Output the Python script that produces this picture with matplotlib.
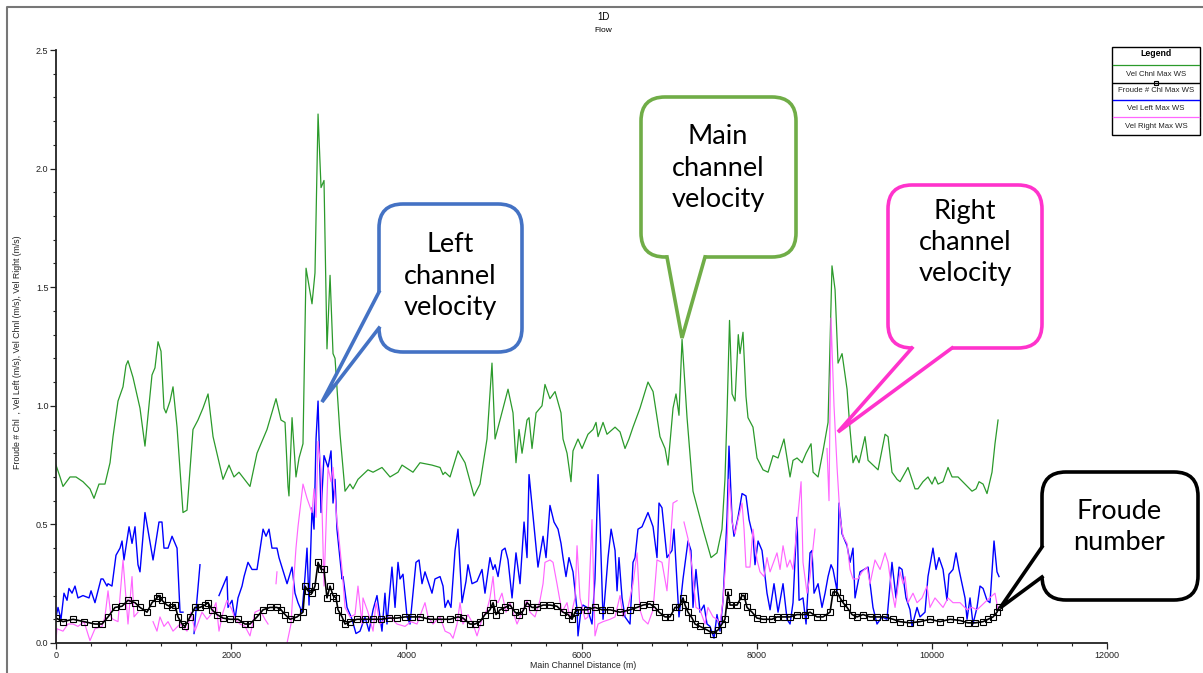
import matplotlib.pyplot as plt
import numpy as np
from matplotlib.patches import FancyBboxPatch, Polygon, Rectangle
from matplotlib.lines import Line2D

# HEC-RAS 1D flow profile: velocities and Froude number along main channel
chnl_x = [0, 46, 80, 160, 228, 308, 388, 434, 491, 559, 617, 651, 708, 765, 799, 822, 879, 959,
          1016, 1096, 1130, 1165, 1199, 1233, 1256, 1302, 1336, 1382, 1450, 1496, 1564, 1621, 1678,
          1736, 1793, 1907, 1975, 2032, 2089, 2215, 2295, 2409, 2512, 2569, 2615, 2649, 2660, 2695,
          2740, 2775, 2820, 2855, 2923, 2957, 2992, 3026, 3060, 3094, 3129, 3163, 3186, 3243, 3300,
          3357, 3391, 3448, 3562, 3620, 3722, 3814, 3905, 3951, 4076, 4156, 4293, 4385, 4419, 4442,
          4499, 4590, 4670, 4773, 4841, 4921, 4978, 5013, 5104, 5161, 5218, 5252, 5287, 5321, 5378,
          5401, 5435, 5481, 5549, 5583, 5640, 5698, 5766, 5789, 5835, 5880, 5903, 5960, 6006, 6074,
          6131, 6166, 6189, 6246, 6291, 6383, 6440, 6497, 6542, 6588, 6668, 6759, 6817, 6896, 6954,
          6988, 7045, 7079, 7113, 7148, 7205, 7273, 7387, 7479, 7547, 7604, 7638, 7662, 7690, 7719,
          7753, 7790, 7810, 7844, 7878, 7901, 7958, 8004, 8073, 8130, 8187, 8244, 8312, 8381, 8415,
          8461, 8518, 8564, 8621, 8644, 8701, 8758, 8815, 8860, 8895, 8929, 8975, 9032, 9066, 9100,
          9134, 9169, 9237, 9272, 9386, 9466, 9500, 9545, 9603, 9637, 9728, 9808, 9842, 9899, 9956,
          10002, 10036, 10071, 10128, 10185, 10231, 10299, 10379, 10459, 10505, 10539, 10585, 10630,
          10687, 10721, 10756]
chnl_v = [0.75, 0.70, 0.66, 0.70, 0.70, 0.68, 0.65, 0.61, 0.67, 0.67, 0.76, 0.87, 1.02, 1.08, 1.17,
          1.19, 1.12, 0.99, 0.83, 1.13, 1.16, 1.27, 1.23, 0.99, 0.97, 1.02, 1.08, 0.91, 0.55, 0.56,
          0.90, 0.94, 0.99, 1.05, 0.87, 0.69, 0.75, 0.70, 0.72, 0.66, 0.80, 0.90, 1.03, 0.94, 0.93,
          0.66, 0.62, 0.95, 0.70, 0.78, 0.84, 1.58, 1.43, 1.56, 2.23, 1.92, 1.95, 1.24, 1.55, 1.22,
          1.20, 0.88, 0.64, 0.67, 0.65, 0.69, 0.73, 0.72, 0.74, 0.70, 0.72, 0.75, 0.72, 0.76, 0.75,
          0.74, 0.71, 0.72, 0.70, 0.81, 0.76, 0.62, 0.67, 0.86, 1.18, 0.86, 0.99, 1.07, 0.97, 0.76,
          0.90, 0.80, 0.94, 0.95, 0.82, 0.97, 1.00, 1.09, 1.03, 1.06, 0.97, 0.86, 0.80, 0.68, 0.81,
          0.86, 0.82, 0.88, 0.90, 0.93, 0.87, 0.93, 0.88, 0.91, 0.89, 0.82, 0.86, 0.91, 0.99, 1.10,
          1.06, 0.87, 0.82, 0.75, 0.99, 1.05, 0.96, 1.28, 0.95, 0.64, 0.48, 0.36, 0.38, 0.48, 0.69,
          0.97, 1.36, 1.05, 1.02, 1.30, 1.22, 1.31, 1.04, 0.95, 0.91, 0.78, 0.73, 0.72, 0.79, 0.78,
          0.86, 0.70, 0.77, 0.78, 0.76, 0.80, 0.84, 0.72, 0.70, 0.81, 0.93, 1.59, 1.49, 1.18, 1.22,
          1.07, 0.90, 0.76, 0.79, 0.76, 0.87, 0.77, 0.73, 0.88, 0.87, 0.72, 0.69, 0.68, 0.74, 0.65,
          0.65, 0.68, 0.70, 0.67, 0.70, 0.67, 0.68, 0.74, 0.70, 0.70, 0.67, 0.64, 0.65, 0.68, 0.67,
          0.63, 0.72, 0.84, 0.94]

left_x = [0, 23, 57, 91, 126, 148, 183, 217, 251, 308, 377, 400, 445, 514, 537, 582, 594, 639, 685,
          731, 754, 776, 834, 868, 902, 936, 959, 1016, 1108, 1176, 1210, 1233, 1279, 1325, 1382,
          1416, 1450, 1500, 1576, 1644, 1700, 1861, 1907, 1952, 1964, 2010, 2044, 2078, 2124, 2147,
          2192, 2238, 2295, 2364, 2398, 2432, 2466, 2523, 2546, 2638, 2695, 2729, 2763, 2809, 2843,
          2866, 2889, 2923, 2946, 2969, 2992, 3026, 3060, 3106, 3140, 3163, 3186, 3208, 3266, 3277,
          3323, 3380, 3425, 3471, 3528, 3574, 3620, 3665, 3722, 3756, 3779, 3836, 3871, 3905, 3928,
          3962, 4008, 4042, 4110, 4145, 4179, 4213, 4248, 4293, 4327, 4385, 4419, 4442, 4476, 4510,
          4556, 4590, 4636, 4681, 4704, 4750, 4807, 4864, 4898, 4955, 4990, 5013, 5047, 5092, 5127,
          5161, 5207, 5252, 5298, 5344, 5378, 5401, 5458, 5503, 5561, 5595, 5640, 5686, 5732, 5766,
          5789, 5823, 5857, 5903, 5949, 5960, 5994, 6017, 6063, 6120, 6154, 6189, 6211, 6246, 6303,
          6338, 6383, 6406, 6428, 6463, 6497, 6554, 6588, 6611, 6645, 6691, 6759, 6817, 6862, 6885,
          6919, 6976, 7033, 7056, 7113, 7159, 7216, 7250, 7273, 7307, 7353, 7399, 7433, 7467, 7513,
          7547, 7581, 7616, 7662, 7684, 7719, 7741, 7787, 7833, 7878, 7913, 7958, 7981, 8016, 8061,
          8118, 8153, 8198, 8244, 8301, 8347, 8381, 8415, 8461, 8484, 8529, 8564, 8609, 8632, 8655,
          8701, 8746, 8781, 8815, 8849, 8872, 8918, 8941, 8975, 9032, 9066, 9100, 9123, 9180, 9226,
          9272, 9328, 9374, 9431, 9488, 9545, 9591, 9626, 9660, 9705, 9751, 9774, 9831, 9865, 9922,
          9956, 10013, 10048, 10082, 10128, 10173, 10196, 10242, 10276, 10310, 10379, 10402, 10436,
          10470, 10516, 10550, 10585, 10630, 10664, 10710, 10744, 10767]
left_v = [0.11, 0.15, 0.10, 0.21, 0.18, 0.23, 0.21, 0.24, 0.19, 0.20, 0.19, 0.22, 0.17, 0.27, 0.27,
          0.24, 0.25, 0.24, 0.37, 0.40, 0.43, 0.35, 0.49, 0.42, 0.49, 0.33, 0.30, 0.55, 0.35, 0.51,
          0.51, 0.40, 0.40, 0.45, 0.40, 0.13, 0.13, np.nan, 0.04, 0.33, np.nan, 0.20, 0.24, 0.28,
          0.15, 0.18, 0.10, 0.19, 0.24, 0.28, 0.34, 0.31, 0.31, 0.48, 0.45, 0.48, 0.40, 0.40, 0.36,
          0.25, 0.32, 0.21, 0.17, 0.13, 0.28, 0.40, 0.16, 0.57, 0.48, 0.86, 1.02, 0.55, 0.79, 0.74,
          0.81, 0.59, 0.69, 0.48, 0.27, 0.28, 0.15, 0.10, 0.04, 0.05, 0.11, 0.05, 0.14, 0.20, 0.05,
          0.21, 0.08, 0.32, 0.15, 0.34, 0.27, 0.29, 0.11, 0.08, 0.34, 0.35, 0.25, 0.30, 0.26, 0.21,
          0.27, 0.28, 0.24, 0.15, 0.18, 0.15, 0.39, 0.48, 0.17, 0.26, 0.33, 0.25, 0.26, 0.31, 0.21,
          0.36, 0.31, 0.33, 0.28, 0.39, 0.40, 0.35, 0.19, 0.38, 0.25, 0.51, 0.36, 0.71, 0.49, 0.32,
          0.45, 0.36, 0.58, 0.51, 0.48, 0.42, 0.36, 0.28, 0.36, 0.30, 0.14, 0.03, 0.14, 0.16, 0.15,
          0.08, 0.27, 0.71, 0.51, 0.10, 0.36, 0.48, 0.39, 0.22, 0.36, 0.19, 0.11, 0.08, 0.34, 0.36,
          0.48, 0.49, 0.55, 0.49, 0.36, 0.59, 0.57, 0.36, 0.39, 0.48, 0.11, 0.27, 0.43, 0.39, 0.15,
          0.31, 0.13, 0.16, 0.08, 0.07, 0.02, 0.12, 0.05, 0.18, 0.53, 0.83, 0.52, 0.45, 0.53, 0.63,
          0.62, 0.52, 0.45, 0.33, 0.43, 0.39, 0.21, 0.14, 0.25, 0.13, 0.25, 0.10, 0.08, 0.17, 0.53,
          0.18, 0.19, 0.08, 0.38, 0.39, 0.21, 0.25, 0.15, 0.21, 0.28, 0.33, 0.31, 0.22, 0.59, 0.46,
          0.41, 0.34, 0.40, 0.19, 0.30, 0.31, 0.32, 0.15, 0.08, 0.11, 0.10, 0.34, 0.19, 0.32, 0.31,
          0.19, 0.14, 0.07, 0.15, 0.11, 0.13, 0.28, 0.40, 0.31, 0.36, 0.31, 0.18, 0.29, 0.31, 0.38,
          0.31, 0.19, 0.10, 0.19, 0.08, 0.15, 0.24, 0.23, 0.18, 0.17, 0.43, 0.30, 0.28]

right_x = [0, 11, 80, 137, 194, 251, 320, 388, 445, 525, 559, 594, 628, 651, 708, 765, 799, 822, 868,
           891, 936, 1000, 1108, 1153, 1187, 1233, 1279, 1336, 1416, 1496, 1541, 1587, 1667, 1724,
           1770, 1827, 1861, 1907, 1952, 2010, 2044, 2101, 2158, 2215, 2272, 2329, 2386, 2421, 2470,
           2512, 2523, 2580, 2638, 2683, 2706, 2740, 2763, 2820, 2866, 2923, 2946, 2969, 2992, 3026,
           3060, 3106, 3140, 3163, 3208, 3220, 3266, 3300, 3357, 3414, 3448, 3494, 3505, 3562, 3620,
           3654, 3700, 3756, 3814, 3893, 3985, 4053, 4122, 4213, 4248, 4305, 4385, 4442, 4499, 4533,
           4579, 4613, 4647, 4704, 4761, 4807, 4864, 4921, 4955, 4990, 5013, 5047, 5092, 5138, 5184,
           5218, 5264, 5321, 5378, 5412, 5469, 5526, 5561, 5583, 5640, 5675, 5720, 5777, 5835, 5869,
           5926, 5949, 5983, 6040, 6074, 6120, 6154, 6189, 6246, 6326, 6383, 6440, 6474, 6531, 6588,
           6634, 6668, 6702, 6759, 6817, 6862, 6919, 6976, 6999, 7045, 7091, 7130, 7170, 7216, 7262,
           7307, 7353, 7410, 7444, 7502, 7547, 7581, 7616, 7662, 7684, 7719, 7753, 7787, 7833, 7856,
           7878, 7924, 7958, 8004, 8038, 8084, 8118, 8153, 8232, 8267, 8301, 8347, 8381, 8415, 8507,
           8529, 8575, 8609, 8666, 8740, 8803, 8826, 8849, 8883, 8918, 8952, 8986, 9032, 9066, 9100,
           9157, 9203, 9260, 9294, 9351, 9409, 9466, 9500, 9545, 9580, 9637, 9671, 9694, 9728, 9785,
           9831, 9888, 9945, 9979, 10036, 10128, 10185, 10242, 10322, 10402, 10459, 10516, 10630,
           10721, 10756]
right_v = [0.01, 0.06, 0.05, 0.08, 0.08, 0.07, 0.09, 0.01, 0.06, 0.07, 0.11, 0.22, 0.11, 0.10, 0.09,
           0.35, 0.19, 0.08, 0.28, 0.11, 0.13, np.nan, 0.09, 0.05, 0.11, 0.07, 0.09, 0.05, 0.08,
           0.05, 0.13, 0.05, 0.13, 0.10, 0.12, 0.17, 0.05, 0.13, 0.18, 0.14, 0.10, 0.08, 0.07, 0.03,
           0.13, 0.14, 0.10, 0.08, np.nan, 0.25, 0.30, np.nan, 0.00, 0.08, 0.22, 0.40, 0.49, 0.67,
           0.61, 0.55, 0.65, 0.53, 0.85, 0.73, 0.24, 0.74, 0.68, 0.74, 0.51, 0.48, 0.31, 0.15, 0.11,
           0.12, 0.24, 0.08, 0.19, 0.13, 0.05, 0.17, 0.08, 0.10, 0.11, 0.08, 0.07, 0.09, 0.08, 0.17,
           0.11, 0.08, 0.11, 0.05, 0.04, 0.02, 0.08, 0.17, 0.08, 0.12, 0.08, 0.03, 0.10, 0.14, 0.19,
           0.28, 0.18, 0.17, 0.21, 0.13, 0.17, 0.13, 0.08, 0.13, 0.18, 0.13, 0.11, 0.18, 0.25, 0.34,
           0.35, 0.34, 0.25, 0.13, 0.17, 0.10, 0.19, 0.41, 0.19, 0.10, 0.11, 0.52, 0.03, 0.08, 0.09,
           0.10, 0.11, 0.20, 0.11, 0.15, 0.25, 0.38, 0.14, 0.10, 0.08, 0.14, 0.35, 0.34, 0.22, 0.34,
           0.59, 0.60, np.nan, 0.51, 0.44, 0.32, 0.15, 0.14, 0.08, 0.15, 0.11, 0.10, 0.08, 0.18,
           0.42, 0.69, 0.51, 0.46, 0.52, 0.59, 0.48, 0.32, 0.32, 0.48, 0.35, 0.30, 0.28, 0.36, 0.30,
           0.38, 0.31, 0.41, 0.32, 0.35, 0.31, 0.68, 0.34, 0.21, 0.28, 0.48, np.nan, 0.82, 0.60, 1.37,
           1.00, 0.74, 0.53, 0.45, 0.42, 0.31, 0.27, 0.27, 0.30, 0.32, 0.25, 0.35, 0.31, 0.38, 0.34,
           0.22, 0.15, 0.30, 0.25, 0.28, 0.17, 0.21, 0.17, 0.19, 0.24, 0.15, 0.19, 0.15, 0.19, 0.17,
           0.17, 0.14, 0.15, 0.14, 0.18, 0.21, 0.14]

froude_x = [0, 80, 194, 320, 445, 525, 594, 674, 754, 822, 902, 959, 1039, 1096, 1153, 1176, 1210,
            1267, 1325, 1359, 1393, 1439, 1473, 1530, 1587, 1644, 1701, 1736, 1781, 1838, 1907, 1987,
            2078, 2158, 2215, 2295, 2364, 2443, 2523, 2569, 2615, 2672, 2752, 2820, 2843, 2877, 2923,
            2957, 2992, 3026, 3060, 3094, 3129, 3163, 3197, 3220, 3266, 3300, 3357, 3437, 3528, 3620,
            3711, 3802, 3893, 3985, 4065, 4156, 4270, 4385, 4499, 4590, 4647, 4727, 4784, 4841, 4898,
            4955, 4990, 5024, 5070, 5127, 5184, 5241, 5287, 5332, 5378, 5435, 5492, 5561, 5640, 5720,
            5789, 5846, 5892, 5926, 5960, 6063, 6154, 6234, 6326, 6440, 6554, 6634, 6702, 6782, 6839,
            6885, 6954, 7011, 7068, 7113, 7159, 7182, 7216, 7262, 7296, 7353, 7433, 7502, 7559, 7604,
            7638, 7673, 7696, 7776, 7833, 7856, 7890, 7947, 8004, 8073, 8175, 8232, 8312, 8381, 8461,
            8552, 8609, 8689, 8758, 8838, 8872, 8918, 8952, 8986, 9032, 9089, 9146, 9214, 9294, 9374,
            9466, 9557, 9637, 9751, 9865, 9979, 10093, 10208, 10322, 10413, 10493, 10585, 10642,
            10699, 10744, 10767]
froude_v = [0.105, 0.09, 0.10, 0.09, 0.08, 0.08, 0.11, 0.15, 0.155, 0.18, 0.17, 0.15, 0.13, 0.17,
            0.19, 0.20, 0.18, 0.16, 0.15, 0.16, 0.11, 0.08, 0.07, 0.11, 0.15, 0.15, 0.16, 0.17, 0.14,
            0.12, 0.105, 0.10, 0.10, 0.08, 0.08, 0.11, 0.14, 0.15, 0.15, 0.14, 0.12, 0.10, 0.11, 0.13,
            0.24, 0.22, 0.21, 0.24, 0.34, 0.31, 0.31, 0.19, 0.24, 0.20, 0.19, 0.14, 0.11, 0.08, 0.09,
            0.10, 0.10, 0.10, 0.10, 0.105, 0.105, 0.11, 0.11, 0.11, 0.10, 0.10, 0.10, 0.11, 0.105,
            0.08, 0.08, 0.09, 0.12, 0.14, 0.17, 0.12, 0.14, 0.15, 0.16, 0.13, 0.12, 0.135, 0.17, 0.15,
            0.15, 0.16, 0.16, 0.155, 0.13, 0.12, 0.10, 0.13, 0.14, 0.14, 0.15, 0.14, 0.14, 0.13, 0.14,
            0.15, 0.16, 0.165, 0.15, 0.13, 0.11, 0.11, 0.15, 0.15, 0.19, 0.16, 0.13, 0.105, 0.08,
            0.07, 0.055, 0.04, 0.055, 0.08, 0.10, 0.215, 0.16, 0.16, 0.20, 0.20, 0.15, 0.13, 0.105,
            0.10, 0.10, 0.11, 0.11, 0.11, 0.12, 0.12, 0.13, 0.11, 0.11, 0.13, 0.215, 0.215, 0.19,
            0.17, 0.15, 0.12, 0.11, 0.12, 0.11, 0.11, 0.11, 0.10, 0.09, 0.085, 0.09, 0.10, 0.09, 0.10,
            0.095, 0.085, 0.085, 0.09, 0.10, 0.11, 0.13, 0.15]

legend_labels = ["Vel Chnl Max WS", "Froude # Chl Max WS", "Vel Left Max WS", "Vel Right Max WS"]

W, H = 1203, 673
fig = plt.figure(figsize=(W / 100, H / 100), dpi=100)
plt.rcParams['font.family'] = ['Liberation Sans', 'DejaVu Sans']

ax = fig.add_axes([56 / W, 1 - 643 / H, (1107 - 56) / W, (643 - 50) / H])
ax.plot(chnl_x, chnl_v, color='#2b9a2b', lw=0.9)
ax.plot(left_x, left_v, color='#0000ff', lw=1.0)
ax.plot(right_x, right_v, color='#ff66ff', lw=0.85)
ax.plot(froude_x, froude_v, color='black', lw=1.2, marker='s', ms=3.8, mfc='none', mec='black',
        mew=0.8)

ax.set_xlim(0, 12000)
ax.set_ylim(0, 2.5)
ax.set_xticks(np.arange(0, 12001, 2000))
ax.set_xticks(np.arange(0, 12001, 400), minor=True)
ax.set_yticks(np.arange(0, 2.51, 0.5))
ax.set_yticks(np.arange(0, 2.51, 0.1), minor=True)
ax.set_yticklabels(['0.0', '0.5', '1.0', '1.5', '2.0', '2.5'])
ax.tick_params(which='major', length=4, width=0.9, labelsize=6.5, pad=1.5, colors='#222222')
ax.tick_params(which='minor', length=2.5, width=0.8, colors='#222222')
for s in ['top', 'right']:
    ax.spines[s].set_visible(False)
for s in ['left', 'bottom']:
    ax.spines[s].set_linewidth(1.3)
    ax.spines[s].set_color('#222222')
ax.set_facecolor('none')

# overlay in pixel units for title, labels, legend and callouts
ov = fig.add_axes([0, 0, 1, 1], zorder=5)
ov.set_xlim(0, W)
ov.set_ylim(H, 0)
ov.axis('off')
ov.patch.set_alpha(0)

ov.plot([7, 7, W], [H, 7, 7], color='#777777', lw=1.5)
ov.text(603, 17, '1D', ha='center', va='center', fontsize=7)
ov.text(603, 30, 'Flow', ha='center', va='center', fontsize=6)
ov.text(583, 666, 'Main Channel Distance (m)', ha='center', va='center', fontsize=6.3,
        color='#222222')
ov.text(18, 352, 'Froude # Chl  , Vel Left (m/s), Vel Chnl (m/s), Vel Right (m/s)', rotation=90,
        ha='center', va='center', fontsize=6.3, color='#222222')

# legend box
ov.add_patch(Rectangle((1112, 47), 88, 88, fill=False, ec='black', lw=1.0))
ov.text(1156, 54, 'Legend', ha='center', va='center', fontsize=6.3, fontweight='bold')
leg_styles = [dict(color='#2b9a2b', lw=0.9), dict(color='black', lw=1.0),
              dict(color='#0000ff', lw=1.0), dict(color='#ff66ff', lw=0.9)]
leg_line_y = [65, 83, 100, 117]
leg_text_y = [74, 91, 109, 127]
for lab, st, ly, ty in zip(legend_labels, leg_styles, leg_line_y, leg_text_y):
    ov.plot([1113, 1199], [ly, ly], **st)
    ov.text(1156, ty, lab, ha='center', va='center', fontsize=5.6, color='#222222')
ov.plot([1156], [83], marker='s', ms=3.2, mfc='none', mec='black', mew=0.8)


def callout(box, bases, tip, color, text, center, inward):
    x0, y0, x1, y1 = box
    ov.add_patch(FancyBboxPatch((x0, y0), x1 - x0, y1 - y0,
                                boxstyle='round,pad=0,rounding_size=24',
                                fc='white', ec=color, lw=2.6, zorder=6))
    (ax1, ay1), (ax2, ay2) = bases
    dx, dy = inward
    ov.add_patch(Polygon([(ax1 + dx, ay1 + dy), (ax1, ay1), tip, (ax2, ay2), (ax2 + dx, ay2 + dy)],
                         closed=True, fc='white', ec='none', zorder=7))
    ov.add_line(Line2D([ax1, tip[0], ax2], [ay1, tip[1], ay2], color=color, lw=2.6,
                       solid_joinstyle='miter', zorder=8))
    ov.text(center[0], center[1], text, ha='center', va='center', fontsize=19.5,
            family=['Lato', 'DejaVu Sans'], linespacing=1.3, color='black', zorder=9)


callout((379, 204, 522, 352), [(379, 292), (379, 328)], (322, 402), '#4472c4',
        'Left\nchannel\nvelocity', (450, 276), (4, 0))
callout((641, 97, 796, 257), [(667, 257), (705, 257)], (682, 338), '#70ad47',
        'Main\nchannel\nvelocity', (718, 168), (0, -4))
callout((888, 185, 1042, 348), [(912, 348), (952, 348)], (838, 432), '#ff33cc',
        'Right\nchannel\nvelocity', (965, 242), (0, -4))
callout((1042, 472, 1198, 600), [(1042, 547), (1042, 577)], (1000, 608), 'black',
        'Froude\nnumber', (1119, 527), (4, 0))

fig.savefig('out.png', dpi=100)
